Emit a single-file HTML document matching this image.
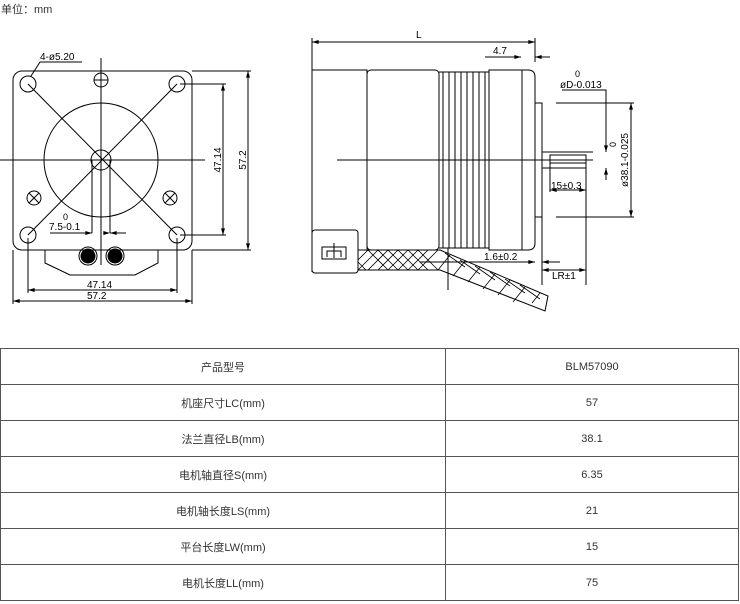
<!DOCTYPE html>
<html><head><meta charset="utf-8"><style>
body{margin:0;width:740px;height:604px;background:#fff;overflow:hidden;font-family:"Liberation Sans","Noto Sans CJK SC",sans-serif;}
.u{position:absolute;left:1px;top:1px;font-size:11px;color:#333;}
table{position:absolute;left:0;top:348px;width:739px;border-collapse:collapse;font-size:11px;color:#333;}
td{border:1px solid #555;height:35px;text-align:center;padding:0;}
svg{position:absolute;left:0;top:0;}
</style></head><body>
<div class="u">单位：mm</div>
<svg width="740" height="340" viewBox="0 0 740 340" font-family="Liberation Sans, sans-serif" font-size="10" fill="none" stroke="#000" stroke-width="1">
<defs><marker id="a" viewBox="0 0 10 6" refX="10" refY="3" markerWidth="8" markerHeight="4" orient="auto-start-reverse"><path d="M0,0L10,3L0,6z" fill="#000" stroke="none"/></marker></defs>
<!-- left view -->
<rect x="13" y="71" width="179" height="179" rx="9"/>
<circle cx="28" cy="84" r="8"/><circle cx="177" cy="84" r="8"/><circle cx="28" cy="235" r="8"/><circle cx="177" cy="235" r="8"/>
<circle cx="101" cy="160" r="57"/><circle cx="101" cy="160" r="10"/>
<circle cx="101" cy="80" r="7"/><path d="M94,80h14M101,73v14"/>
<circle cx="34" cy="198" r="7"/><path d="M29,193l10,10M39,193l-10,10"/>
<circle cx="170" cy="198" r="7"/><path d="M165,193l10,10M175,193l-10,10"/>
<path d="M0,160H205M101,58V265M28,84L177,235M177,84L28,235"/>
<path d="M92,160V233M110,160V233"/>
<path d="M84,233h8M118,233h8M110,233h0" marker-end="url(#a)"/>
<path d="M50,233H92" marker-end="url(#a)"/><path d="M126,233H110" marker-end="url(#a)"/>
<path d="M45,250v13l25,12h65l23,-12v-13"/>
<circle cx="88" cy="256" r="7" fill="#000"/><circle cx="115" cy="256" r="7" fill="#000"/>
<circle cx="88" cy="256" r="9"/><circle cx="115" cy="256" r="9"/>
<path d="M180,84H226M180,235H226M192,71H251M192,250H251"/>
<path d="M223,84V235" marker-start="url(#a)" marker-end="url(#a)"/>
<path d="M248,71V250" marker-start="url(#a)" marker-end="url(#a)"/>
<path d="M28,238V293M177,238V293M13,250V304M192,250V304"/>
<path d="M28,290H177" marker-start="url(#a)" marker-end="url(#a)"/>
<path d="M13,301H192" marker-start="url(#a)" marker-end="url(#a)"/>
<path d="M40,62H82M40,62L31,76"/>
<g fill="#000" stroke="none">
<text x="40" y="60">4-ø5.20</text>
<text x="63" y="220" font-size="9">0</text><text x="49" y="230">7.5-0.1</text>
<text x="87" y="288">47.14</text><text x="87" y="299">57.2</text>
<text transform="translate(221,160) rotate(-90)" text-anchor="middle">47.14</text>
<text transform="translate(246,160) rotate(-90)" text-anchor="middle">57.2</text>
</g>
<!-- right view -->
<path d="M312,38V272M535,38V62"/>
<path d="M312,42H535" marker-start="url(#a)" marker-end="url(#a)"/>
<path d="M312,70H367V250M312,70"/>
<rect x="312" y="230" width="46" height="43" rx="3"/>
<rect x="322" y="247" width="24" height="12"/><path d="M327,257v-6h14v6M334,243v15"/>
<rect x="367" y="70" width="72" height="180" rx="4"/>
<path d="M439,72H489M439,248H489"/>
<path d="M443,72V248M449,72V248M455,72V248M461,72V248M467,72V248M473,72V248M479,72V248M485,72V248"/>
<path d="M489,70H528Q535,70 535,77V243Q535,250 528,250H489Z"/>
<path d="M522,70V250"/>
<path d="M535,103H542V217H535M542,103V217"/>
<path d="M542,152H593M542,168H586M550,155H586V163H550Z"/>
<path d="M337,160H593"/>
<path d="M485,57H521" marker-end="url(#a)"/><path d="M550,57H535" marker-end="url(#a)"/>
<path d="M562,90H606V152M556,103H634M556,217H634"/>
<path d="M606,125V152" marker-end="url(#a)"/><path d="M606,180V168" marker-end="url(#a)"/>
<path d="M631,103V217" marker-start="url(#a)" marker-end="url(#a)"/>
<path d="M550,163V192M586,163V285M542,217V285"/>
<path d="M550,190H586" marker-start="url(#a)" marker-end="url(#a)"/>
<path d="M470,262H535" marker-end="url(#a)"/><path d="M560,262H542" marker-end="url(#a)"/>
<path d="M542,270H586" marker-start="url(#a)" marker-end="url(#a)"/>
<path d="M358,250H440L548,296L545,311L440,270H358Z"/>
<path d="M368,250l20,20M378,250l20,20M388,250l20,20M398,250l20,20M408,250l20,20M418,250l20,20M358,262l8,8M388,250l-20,20M398,250l-20,20M408,250l-20,20M418,250l-20,20M428,250l-20,20M438,250l-20,20M378,250l-20,20M368,250l-10,10M450,255l-12,15M465,261l-12,15M480,267l-12,15M495,274l-12,15M510,280l-12,15M525,287l-12,15M540,293l-8,10M445,253l20,14M460,260l20,14M475,266l20,14M490,272l20,14M505,279l20,14M520,285l20,14" stroke-width="0.8"/>
<path d="M448,248V290M420,262H475"/>
<g fill="#000" stroke="none">
<text x="416" y="38">L</text>
<text x="493" y="54">4.7</text>
<text x="575" y="77" font-size="9">0</text><text x="560" y="88">øD-0.013</text>
<text x="551" y="189">15±0.3</text>
<text x="484" y="260">1.6±0.2</text>
<text x="552" y="279">LR±1</text>
<text transform="translate(616,147) rotate(-90)" font-size="9">0</text>
<text transform="translate(628,160) rotate(-90)" text-anchor="middle">ø38.1-0.025</text>
</g>
</svg>
<table>
<tr><td style="width:444px">产品型号</td><td>BLM57090</td></tr>
<tr><td>机座尺寸LC(mm)</td><td>57</td></tr>
<tr><td>法兰直径LB(mm)</td><td>38.1</td></tr>
<tr><td>电机轴直径S(mm)</td><td>6.35</td></tr>
<tr><td>电机轴长度LS(mm)</td><td>21</td></tr>
<tr><td>平台长度LW(mm)</td><td>15</td></tr>
<tr><td>电机长度LL(mm)</td><td>75</td></tr>
</table>
</body></html>
